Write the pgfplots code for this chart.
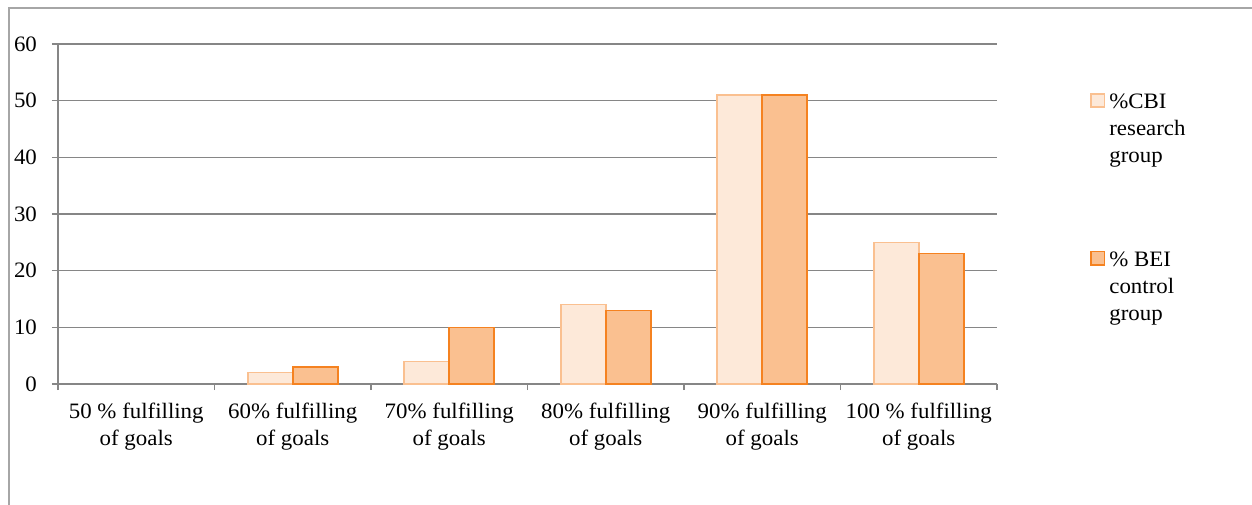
\documentclass[border=0pt]{standalone}
\usepackage{fontspec}
\setmainfont{Liberation Serif}[FakeStretch=1.04]
\usepackage{pgfplots}
\pgfplotsset{compat=1.18}
\definecolor{cbifill}{HTML}{FDE9D9}
\definecolor{cbiline}{HTML}{FAC090}
\definecolor{beifill}{HTML}{FAC090}
\definecolor{beiline}{HTML}{F58220}
\definecolor{gridgray}{HTML}{868686}
\definecolor{framegray}{HTML}{A6A6A6}

% percentage of goals fulfilled, per group
\pgfplotstableread{
cat value
0 0
1 2
2 4
3 14
4 51
5 25
}\cbidata
\pgfplotstableread{
cat value
0 0
1 3
2 10
3 13
4 51
5 23
}\beidata

\begin{document}
\begin{tikzpicture}[x=1pt,y=1pt]
\useasboundingbox (0,0) rectangle (626,252);
\draw[framegray, line width=0.6pt] (4.5,-5) -- (4.5,248) -- (640,248);
\begin{axis}[
  at={(29pt,60pt)}, anchor=south west,
  scale only axis, width=469.5pt, height=170pt,
  ybar=0pt, bar width=22.5pt,
  xmin=-0.5, xmax=5.5, ymin=0, ymax=60,
  axis lines=left, axis line style={-, gridgray, line width=0.75pt},
  xtick={0,...,5},
  xticklabels={{50 \% fulfilling\\of goals},{60\% fulfilling\\of goals},{70\% fulfilling\\of goals},{80\% fulfilling\\of goals},{90\% fulfilling\\of goals},{100 \% fulfilling\\of goals}},
  minor xtick={-0.5,0.5,...,5.5},
  ytick={0,10,...,60},
  ymajorgrids, grid style={gridgray, line width=0.75pt},
  tick align=outside,
  major tick length=3pt, minor tick length=3pt,
  x tick style={draw=none}, minor x tick style={draw=gridgray, line width=0.75pt},
  y tick style={gridgray, line width=0.75pt},
  /pgf/number format/assume math mode=true,
  tick label style={font=\fontsize{11}{13.5}\selectfont},
  xticklabel style={align=center, yshift=-3pt},
  yticklabel style={xshift=-4pt},
  legend style={at={(1.099,0.868)}, anchor=north west, draw=none, fill=none,
    inner sep=0pt, row sep=68pt, column sep=2pt,
    cells={anchor=base west}, nodes={inner sep=0pt},
    font=\fontsize{11}{13.5}\selectfont},
  sqlegend/.style={legend image code/.code={\draw[##1, line width=0.8pt] (0pt,0.5pt) rectangle (6.7pt,7.2pt);}},
  y filter/.expression={y==0 ? nan : y},
  unbounded coords=discard,
]
\addplot[fill=cbifill, draw=cbiline, line width=0.8pt, sqlegend] table[x=cat, y=value] {\cbidata};
\addlegendentry{\begin{tabular}[t]{@{}l@{}}\%CBI\\research\\group\end{tabular}}
\addplot[fill=beifill, draw=beiline, line width=0.8pt, sqlegend] table[x=cat, y=value] {\beidata};
\addlegendentry{\begin{tabular}[t]{@{}l@{}}\% BEI\\control\\group\end{tabular}}
\end{axis}
\end{tikzpicture}
\end{document}
